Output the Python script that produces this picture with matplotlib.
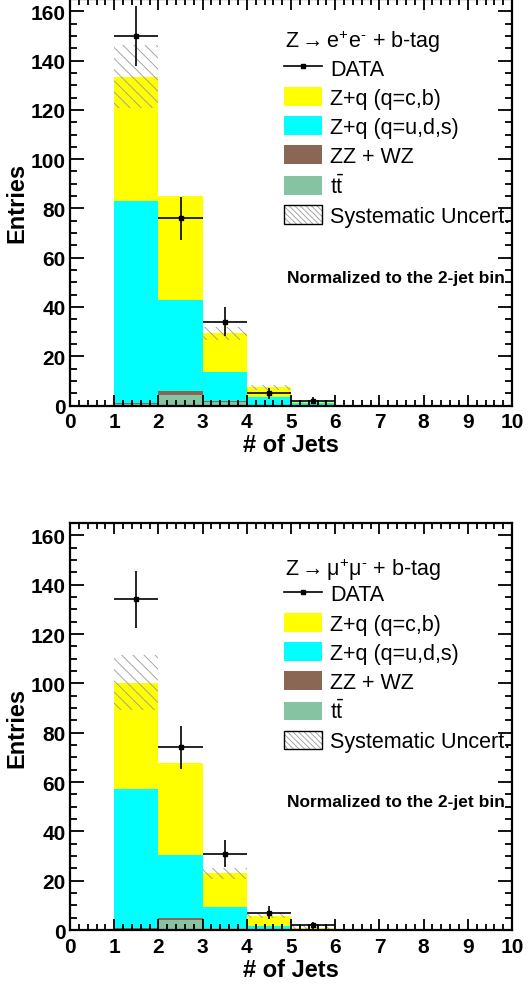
import matplotlib
matplotlib.use('Agg')
import matplotlib.pyplot as plt
from matplotlib.patches import Patch
from matplotlib.lines import Line2D
from matplotlib.legend_handler import HandlerTuple
from matplotlib.ticker import MultipleLocator

plt.rcParams['font.family'] = ['Liberation Sans', 'DejaVu Sans']
plt.rcParams['mathtext.fontset'] = 'custom'
plt.rcParams['mathtext.rm'] = 'Liberation Sans'
plt.rcParams['mathtext.it'] = 'Liberation Sans:italic'
plt.rcParams['mathtext.bf'] = 'Liberation Sans:bold'
plt.rcParams['mathtext.default'] = 'regular'
plt.rcParams['hatch.linewidth'] = 0.6

# bin left edges (# of jets)
bins = [1, 2, 3, 4, 5, 6]
data_x = [1.5, 2.5, 3.5, 4.5, 5.5]

# Z -> ee
ttbar_ee = [0.5, 4.3, 1.5, 0.3, 0.1, 0.0]
diboson_ee = [0.5, 1.6, 0.4, 0.1, 0.0, 0.0]
light_ee = [82.1, 36.9, 11.8, 3.0, 0.8, 0.0]
heavy_ee = [50.3, 42.2, 15.6, 4.0, 0.6, 0.15]
syst_ee = [12.8, 0.0, 2.7, 1.0, 0.5, 0.0]
data_ee = [150, 76, 34, 5, 2]

# Z -> mumu
ttbar_mm = [0.5, 4.1, 0.7, 0.3, 0.1, 0.0]
diboson_mm = [0.4, 0.8, 0.1, 0.0, 0.0, 0.0]
light_mm = [56.3, 25.7, 8.7, 1.4, 0.2, 0.15]
heavy_mm = [43.0, 37.1, 13.5, 4.1, 0.5, 0.0]
syst_mm = [11.1, 0.0, 2.2, 1.0, 0.8, 0.0]
data_mm = [134, 74, 31, 7, 2]

c_heavy = '#ffff00'
c_light = '#00ffff'
c_zz = '#8a6655'
c_tt = '#86c3a3'
c_hatch = '#999999'


def draw(ax, tt, zz, light, heavy, syst, data, title, title_y, leg_y):
    b = [0.0] * len(bins)
    for vals, col in [(tt, c_tt), (zz, c_zz), (light, c_light), (heavy, c_heavy)]:
        ax.bar(bins, vals, width=1.0, bottom=b, align='edge', color=col, linewidth=0)
        b = [x + y for x, y in zip(b, vals)]
    ax.bar(bins, [2 * s for s in syst], width=1.0, bottom=[t - s for t, s in zip(b, syst)],
           align='edge', fill=False, hatch='\\\\\\', edgecolor=c_hatch, linewidth=0)
    err = [d ** 0.5 for d in data]
    ax.errorbar(data_x, data, yerr=err, xerr=0.5, fmt='s', color='black', ms=3.5,
                elinewidth=1.2, capsize=0, zorder=5)

    ax.set_xlim(0, 10)
    ax.set_ylim(0, 165)
    ax.xaxis.set_major_locator(MultipleLocator(1))
    ax.xaxis.set_minor_locator(MultipleLocator(0.2))
    ax.yaxis.set_major_locator(MultipleLocator(20))
    ax.yaxis.set_minor_locator(MultipleLocator(5))
    ax.tick_params(axis='both', which='both', direction='in', top=True, right=True, width=1.3)
    ax.tick_params(axis='x', which='major', length=8, pad=5, labelsize=15)
    ax.tick_params(axis='x', which='minor', length=4)
    ax.tick_params(axis='y', which='major', length=10, pad=3, labelsize=15)
    ax.tick_params(axis='y', which='minor', length=5)
    for lab in ax.get_xticklabels() + ax.get_yticklabels():
        lab.set_fontweight('bold')
    for sp in ax.spines.values():
        sp.set_linewidth(1.6)

    ax.set_xlabel('# of Jets', fontsize=17, fontweight='bold')
    ax.set_ylabel('Entries', fontsize=17, fontweight='bold')
    ax.xaxis.set_label_coords(0.5, -0.068)
    ax.yaxis.set_label_coords(-0.095, 0.5)

    ax.text(0.486, title_y, title, transform=ax.transAxes, fontsize=15.5,
            va='center', ha='left')

    handles = [
        Line2D([], [], color='black', marker='s', ms=3.5, lw=1.2),
        Patch(facecolor=c_heavy, linewidth=0),
        Patch(facecolor=c_light, linewidth=0),
        Patch(facecolor=c_zz, linewidth=0),
        Patch(facecolor=c_tt, linewidth=0),
        (Patch(fill=False, hatch='\\\\\\\\\\\\', edgecolor=c_hatch, linewidth=0),
         Patch(fill=False, edgecolor='black', linewidth=1.0)),
    ]
    labels = ['DATA', 'Z+q (q=c,b)', 'Z+q (q=u,d,s)', 'ZZ + WZ', r't$\bar{t}$',
              'Systematic Uncert.']
    ax.legend(handles, labels, loc='upper left', bbox_to_anchor=(0.485, leg_y),
              frameon=False, borderpad=0, borderaxespad=0, handlelength=1.77,
              handleheight=0.97, handletextpad=0.35, labelspacing=0.34, fontsize=15.5,
              handler_map={tuple: HandlerTuple(ndivide=1)})
    ax.text(0.492, 0.316, 'Normalized to the 2-jet bin', transform=ax.transAxes,
            fontsize=12.5, fontweight='bold', va='center', ha='left')


fig = plt.figure(figsize=(5.3, 9.87), dpi=100)
ax1 = fig.add_axes([0.1321, 0.5881, 0.834, 0.4119])
ax2 = fig.add_axes([0.1321, 0.0567, 0.834, 0.4124])

draw(ax1, ttbar_ee, diboson_ee, light_ee, heavy_ee, syst_ee, data_ee,
     'Z$\\rightarrow$e$^{+}$e$^{\u2010}$ + b-tag', 0.897, 0.855)
draw(ax2, ttbar_mm, diboson_mm, light_mm, heavy_mm, syst_mm, data_mm,
     'Z$\\rightarrow$μ$^{+}$μ$^{\u2010}$ + b-tag', 0.887, 0.851)

fig.savefig('out.png', dpi=100)
